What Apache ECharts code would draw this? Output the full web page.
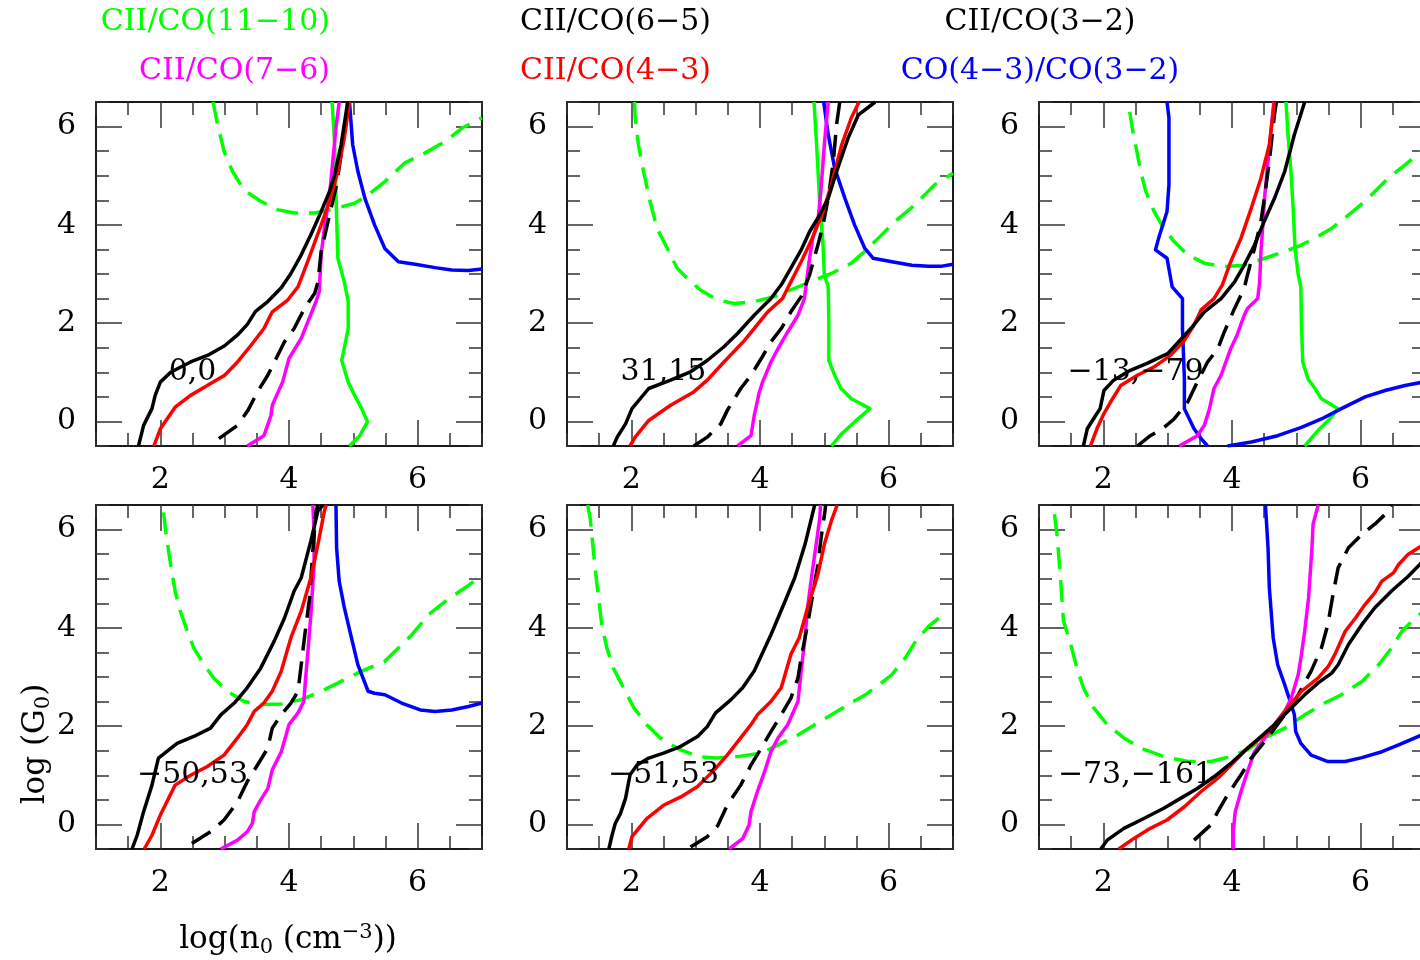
<!DOCTYPE html>
<html>
<head>
<meta charset="utf-8">
<script src="https://cdn.jsdelivr.net/npm/echarts@6/dist/echarts.min.js"></script>
<style>
  html, body { margin: 0; padding: 0; background: #ffffff; overflow: hidden; }
  #chart { width: 1420px; height: 960px; }
</style>
</head>
<body>
<div id="chart"></div>
<script>
// ---- tick labels and panel names ----
const xMajorTicks = [2, 4, 6];
const yMajorTicks = [0, 2, 4, 6];
const panelNames = ['0,0', '31,15', '\u221213,\u221279', '\u221250,53', '\u221251,53', '\u221273,\u2212161'];
const panelLabelAt = [2.5, 1.0];

// ---- panel 1 (0,0) ----
const p1BlackSolid = [[1.66,-0.5],[1.74,-0.08],[1.87,0.26],[1.92,0.53],[2.0,0.8],[2.16,1.0],[2.47,1.21],[2.76,1.36],[3.0,1.54],[3.2,1.76],[3.35,1.97],[3.48,2.24],[3.67,2.44],[3.88,2.72],[4.03,3.01],[4.19,3.39],[4.34,3.8],[4.5,4.27],[4.63,4.68],[4.71,5.02],[4.81,5.63],[4.89,6.31],[4.91,6.5]];
const p1Red = [[1.9,-0.5],[2.0,-0.15],[2.23,0.29],[2.47,0.53],[2.73,0.73],[3.0,0.94],[3.2,1.21],[3.41,1.55],[3.61,1.89],[3.74,2.23],[3.98,2.47],[4.14,2.74],[4.29,3.25],[4.5,4.0],[4.63,4.48],[4.76,5.09],[4.86,5.77],[4.94,6.5]];
const p1BlackDash = [[2.91,-0.35],[3.2,-0.08],[3.36,0.22],[3.51,0.6],[3.67,0.94],[3.8,1.28],[3.93,1.62],[4.08,1.89],[4.24,2.3],[4.4,2.61],[4.45,2.84],[4.5,3.46],[4.63,4.2],[4.74,4.82],[4.81,5.43],[4.89,6.11],[4.92,6.5]];
const p1Magenta = [[3.35,-0.5],[3.61,-0.29],[3.72,0.12],[3.74,0.33],[3.9,0.8],[4.0,1.28],[4.19,1.69],[4.42,2.44],[4.47,2.64],[4.5,3.39],[4.55,3.93],[4.63,4.61],[4.68,5.29],[4.73,5.97],[4.78,6.5]];
const p1GreenSolid = [[4.67,6.5],[4.71,5.63],[4.73,4.61],[4.76,3.32],[4.86,2.84],[4.92,2.44],[4.92,1.89],[4.82,1.24],[4.92,0.8],[5.02,0.53],[5.13,0.26],[5.22,-0.01],[5.1,-0.29],[4.94,-0.5]];
const p1Blue = [[4.94,6.5],[4.99,5.63],[5.07,5.09],[5.18,4.54],[5.33,4.0],[5.49,3.52],[5.7,3.25],[5.96,3.2],[6.27,3.13],[6.53,3.08],[6.79,3.07],[7.0,3.1]];
const p1GreenDash = [[2.82,6.5],[2.89,6.04],[2.99,5.5],[3.12,5.09],[3.3,4.71],[3.56,4.48],[3.82,4.31],[4.08,4.24],[4.4,4.24],[4.66,4.31],[5.02,4.44],[5.23,4.61],[5.49,4.88],[5.8,5.26],[6.11,5.46],[6.43,5.7],[6.69,5.97],[7.0,6.18]];

// ---- panel 2 (31,15) ----
const p2BlackSolid = [[1.72,-0.5],[1.78,-0.32],[1.91,-0.05],[2.01,0.26],[2.27,0.67],[2.61,0.84],[2.92,1.01],[3.18,1.24],[3.44,1.52],[3.65,1.79],[3.91,2.16],[4.17,2.5],[4.33,2.78],[4.48,3.12],[4.64,3.49],[4.77,3.86],[4.9,4.14],[5.06,4.54],[5.21,5.16],[5.37,5.77],[5.53,6.24],[5.79,6.5]];
const p2Red = [[1.98,-0.5],[2.06,-0.32],[2.27,0.02],[2.61,0.33],[2.97,0.6],[3.18,0.84],[3.44,1.21],[3.76,1.65],[4.12,2.23],[4.35,2.5],[4.48,2.84],[4.64,3.25],[4.8,3.69],[4.98,4.27],[5.11,4.82],[5.27,5.63],[5.42,6.18],[5.54,6.5]];
const p2BlackDash = [[2.97,-0.5],[3.18,-0.32],[3.39,-0.05],[3.49,0.22],[3.7,0.67],[3.86,0.94],[4.02,1.28],[4.17,1.62],[4.33,1.89],[4.48,2.23],[4.64,2.54],[4.77,2.98],[4.9,3.59],[4.98,4.0],[5.06,4.54],[5.14,5.29],[5.19,6.04],[5.24,6.5]];
const p2Magenta = [[3.65,-0.5],[3.86,-0.29],[3.91,0.12],[3.99,0.6],[4.04,0.8],[4.17,1.21],[4.28,1.48],[4.43,1.82],[4.59,2.16],[4.69,2.5],[4.73,2.91],[4.77,3.32],[4.82,3.73],[4.9,4.07],[4.95,4.75],[5.0,5.63],[5.06,6.5]];
const p2GreenSolid = [[4.84,6.5],[4.88,5.63],[4.93,4.41],[4.98,3.59],[5.0,2.98],[5.06,2.74],[5.07,2.03],[5.07,1.24],[5.16,0.94],[5.26,0.67],[5.42,0.46],[5.71,0.26],[5.47,-0.01],[5.27,-0.25],[5.11,-0.5]];
const p2Blue = [[4.99,6.5],[5.06,5.84],[5.16,5.16],[5.32,4.54],[5.47,4.0],[5.63,3.52],[5.76,3.32],[6.05,3.25],[6.36,3.18],[6.62,3.16],[6.83,3.16],[7.0,3.2]];
const p2GreenDash = [[2.05,6.5],[2.06,6.18],[2.11,5.63],[2.19,5.09],[2.29,4.48],[2.4,3.93],[2.56,3.52],[2.71,3.12],[2.87,2.91],[3.08,2.67],[3.34,2.47],[3.6,2.4],[3.91,2.44],[4.22,2.54],[4.54,2.71],[4.85,2.88],[5.11,3.01],[5.42,3.22],[5.63,3.46],[5.84,3.73],[6.1,4.07],[6.41,4.41],[6.72,4.82],[7.0,5.05]];

// ---- panel 3 (-13,-79) ----
const p3BlackSolid = [[1.69,-0.5],[1.75,-0.15],[1.88,0.12],[1.95,0.26],[2.01,0.63],[2.16,0.84],[2.42,1.04],[2.68,1.18],[3.0,1.38],[3.15,1.59],[3.36,1.89],[3.57,2.23],[3.83,2.5],[4.04,2.84],[4.19,3.18],[4.35,3.59],[4.5,4.07],[4.66,4.54],[4.82,5.09],[4.97,5.84],[5.13,6.5]];
const p3Red = [[1.8,-0.5],[1.9,-0.15],[2.01,0.16],[2.11,0.39],[2.27,0.73],[2.53,0.94],[2.79,1.11],[3.05,1.35],[3.26,1.65],[3.41,1.96],[3.52,2.27],[3.72,2.5],[3.85,2.78],[3.98,3.25],[4.14,3.73],[4.3,4.34],[4.45,4.95],[4.58,5.63],[4.66,6.5]];
const p3BlackDash = [[2.53,-0.5],[2.73,-0.29],[2.92,-0.15],[3.1,0.05],[3.31,0.39],[3.46,0.8],[3.62,1.21],[3.78,1.48],[3.88,1.82],[4.04,2.3],[4.19,2.71],[4.24,2.98],[4.35,3.52],[4.45,4.07],[4.51,4.61],[4.58,5.29],[4.66,6.24],[4.69,6.5]];
const p3Magenta = [[3.18,-0.5],[3.46,-0.29],[3.57,-0.08],[3.65,0.26],[3.72,0.67],[3.83,0.94],[3.98,1.48],[4.08,1.76],[4.19,2.16],[4.24,2.3],[4.4,2.5],[4.43,2.84],[4.45,3.46],[4.48,4.0],[4.51,4.61],[4.56,5.29],[4.61,5.97],[4.65,6.5]];
const p3GreenSolid = [[4.84,6.5],[4.87,5.84],[4.92,5.02],[4.95,4.34],[4.98,3.52],[5.03,2.98],[5.07,2.74],[5.08,1.96],[5.1,1.21],[5.18,0.87],[5.29,0.67],[5.39,0.46],[5.65,0.26],[5.52,0.05],[5.34,-0.18],[5.13,-0.5]];
const p3BlueA = [[2.99,6.5],[3.02,6.18],[3.02,4.82],[2.99,4.27],[2.86,3.73],[2.81,3.49],[2.99,3.32],[3.07,2.74],[3.23,2.5],[3.23,1.89],[3.26,0.87],[3.26,0.26],[3.41,-0.15],[3.52,-0.35],[3.62,-0.5]];
const p3BlueB = [[3.93,-0.5],[4.3,-0.42],[4.71,-0.29],[5.08,-0.12],[5.39,0.05],[5.7,0.26],[6.07,0.5],[6.38,0.63],[6.69,0.73],[7.0,0.81]];
const p3GreenDash = [[2.41,6.3],[2.45,5.97],[2.52,5.5],[2.58,5.09],[2.66,4.68],[2.79,4.27],[2.94,3.93],[3.1,3.66],[3.31,3.39],[3.57,3.22],[3.88,3.15],[4.19,3.18],[4.51,3.32],[4.82,3.46],[5.03,3.56],[5.29,3.73],[5.55,3.93],[5.81,4.2],[6.07,4.48],[6.43,4.95],[6.69,5.22],[6.95,5.5],[7.0,5.55]];

// ---- panel 4 (-50,53) ----
const p4BlackSolid = [[1.56,-0.5],[1.64,-0.22],[1.74,0.26],[1.87,0.8],[1.97,1.35],[2.26,1.65],[2.52,1.79],[2.78,1.96],[2.94,2.23],[3.15,2.47],[3.35,2.78],[3.56,3.18],[3.77,3.73],[3.93,4.2],[4.08,4.75],[4.19,5.02],[4.34,5.77],[4.45,6.38],[4.53,6.5]];
const p4Red = [[1.75,-0.5],[1.87,-0.22],[2.0,0.19],[2.23,0.8],[2.47,1.0],[2.73,1.18],[2.99,1.41],[3.2,1.76],[3.35,2.03],[3.46,2.3],[3.61,2.47],[3.74,2.71],[3.88,3.12],[4.03,3.8],[4.19,4.34],[4.34,5.02],[4.45,5.7],[4.55,6.38],[4.58,6.5]];
const p4BlackDash = [[2.49,-0.39],[2.78,-0.15],[2.99,0.09],[3.2,0.46],[3.35,0.87],[3.51,1.21],[3.67,1.55],[3.74,1.96],[3.88,2.23],[4.03,2.47],[4.14,2.71],[4.19,3.25],[4.24,3.8],[4.32,4.61],[4.37,5.56],[4.42,6.38],[4.45,6.5]];
const p4Magenta = [[2.94,-0.5],[3.2,-0.32],[3.35,-0.15],[3.43,0.02],[3.46,0.26],[3.56,0.5],[3.67,0.73],[3.74,1.11],[3.88,1.48],[4.0,2.03],[4.14,2.27],[4.23,2.5],[4.25,2.84],[4.29,3.46],[4.34,4.27],[4.39,5.29],[4.39,5.97],[4.37,6.5]];
const p4Blue = [[4.73,6.5],[4.74,5.63],[4.78,4.95],[4.86,4.41],[4.97,3.8],[5.07,3.25],[5.23,2.71],[5.33,2.67],[5.49,2.64],[5.75,2.47],[6.04,2.33],[6.27,2.3],[6.53,2.33],[6.79,2.4],[7.0,2.47]];
const p4GreenDash = [[2.05,6.35],[2.09,5.9],[2.16,5.29],[2.23,4.75],[2.31,4.34],[2.42,3.93],[2.52,3.59],[2.68,3.25],[2.83,2.98],[3.04,2.71],[3.3,2.5],[3.56,2.44],[3.88,2.45],[4.19,2.54],[4.5,2.71],[4.81,2.91],[5.13,3.12],[5.49,3.32],[5.7,3.59],[5.91,3.86],[6.17,4.27],[6.43,4.54],[6.74,4.82],[6.95,5.02]];

// ---- panel 5 (-51,53) ----
const p5BlackSolid = [[1.65,-0.5],[1.7,-0.22],[1.75,0.02],[1.83,0.22],[1.91,0.53],[1.98,1.01],[2.09,1.21],[2.27,1.35],[2.5,1.45],[2.77,1.59],[3.03,1.79],[3.18,1.99],[3.31,2.27],[3.55,2.54],[3.73,2.78],[3.91,3.12],[4.17,3.86],[4.37,4.48],[4.54,5.02],[4.7,5.7],[4.85,6.5]];
const p5Red = [[1.96,-0.5],[2.01,-0.25],[2.24,0.12],[2.5,0.39],[2.77,0.56],[3.03,0.77],[3.29,1.11],[3.49,1.41],[3.7,1.76],[3.86,2.03],[3.96,2.23],[4.17,2.5],[4.33,2.78],[4.48,3.46],[4.61,3.8],[4.74,4.41],[4.9,5.09],[5.0,5.7],[5.11,6.18],[5.2,6.5]];
const p5BlackDash = [[2.92,-0.46],[3.18,-0.25],[3.34,-0.03],[3.49,0.39],[3.7,0.8],[3.86,1.21],[4.02,1.55],[4.17,1.89],[4.33,2.23],[4.48,2.57],[4.59,2.98],[4.64,3.39],[4.74,4.07],[4.82,4.68],[4.9,5.29],[4.95,5.84],[5.01,6.38],[5.02,6.5]];
const p5Magenta = [[3.52,-0.5],[3.73,-0.29],[3.83,-0.01],[3.86,0.26],[3.96,0.67],[4.07,1.07],[4.17,1.48],[4.28,1.76],[4.43,2.03],[4.59,2.5],[4.64,3.12],[4.7,3.8],[4.74,4.41],[4.8,5.02],[4.88,5.77],[4.93,6.24],[4.94,6.5]];
const p5GreenDash = [[1.32,6.5],[1.36,6.24],[1.41,5.56],[1.46,4.95],[1.54,4.07],[1.62,3.59],[1.72,3.18],[1.88,2.78],[2.04,2.37],[2.24,2.03],[2.45,1.76],[2.71,1.55],[3.03,1.38],[3.34,1.35],[3.65,1.38],[4.02,1.45],[4.28,1.62],[4.59,1.82],[4.85,2.03],[5.11,2.23],[5.37,2.44],[5.64,2.64],[5.89,2.88],[6.05,3.05],[6.26,3.39],[6.42,3.73],[6.62,4.03],[6.91,4.34]];

// ---- panel 6 (-73,-161) ----
const p6BlackSolid = [[1.96,-0.5],[2.06,-0.32],[2.32,-0.08],[2.63,0.12],[2.94,0.33],[3.2,0.53],[3.46,0.73],[3.72,0.97],[3.98,1.24],[4.24,1.55],[4.45,1.79],[4.66,2.03],[4.92,2.37],[5.13,2.64],[5.34,2.88],[5.55,3.08],[5.65,3.25],[5.81,3.66],[6.02,4.07],[6.22,4.41],[6.48,4.75],[6.74,5.05],[6.95,5.33],[7.0,5.38]];
const p6Red = [[2.24,-0.5],[2.47,-0.29],[2.73,-0.08],[2.99,0.09],[3.26,0.36],[3.52,0.67],[3.78,0.94],[4.04,1.28],[4.24,1.55],[4.45,1.76],[4.66,2.03],[4.82,2.3],[5.08,2.71],[5.34,2.98],[5.5,3.22],[5.6,3.46],[5.76,3.93],[5.92,4.2],[6.07,4.48],[6.22,4.71],[6.33,4.95],[6.51,5.12],[6.59,5.29],[6.74,5.5],[6.95,5.67],[7.0,5.7]];
const p6BlackDash = [[3.41,-0.32],[3.67,-0.01],[3.78,0.26],[3.93,0.6],[4.14,1.01],[4.3,1.35],[4.51,1.69],[4.82,2.23],[5.03,2.64],[5.23,3.12],[5.39,3.59],[5.49,4.07],[5.57,4.68],[5.65,5.22],[5.81,5.63],[6.02,5.9],[6.22,6.11],[6.38,6.31],[6.48,6.5]];
const p6Magenta = [[4.02,-0.5],[4.02,-0.15],[4.05,0.26],[4.14,0.67],[4.24,1.07],[4.35,1.48],[4.51,1.76],[4.66,2.03],[4.82,2.3],[4.92,2.57],[5.03,3.05],[5.08,3.46],[5.13,3.93],[5.19,4.61],[5.24,5.56],[5.26,6.11],[5.34,6.5]];
const p6Blue = [[4.52,6.5],[4.56,5.63],[4.58,4.82],[4.64,3.8],[4.71,3.25],[4.82,2.84],[4.92,2.44],[4.97,2.23],[4.99,1.89],[5.07,1.65],[5.23,1.41],[5.49,1.28],[5.76,1.28],[6.02,1.36],[6.33,1.48],[6.59,1.62],[6.95,1.82],[7.0,1.85]];
const p6GreenDash = [[1.24,6.31],[1.28,5.9],[1.33,5.09],[1.38,4.14],[1.48,3.73],[1.59,3.18],[1.69,2.78],[1.85,2.37],[2.06,2.03],[2.32,1.76],[2.58,1.55],[2.94,1.38],[3.31,1.28],[3.67,1.28],[3.98,1.38],[4.24,1.52],[4.51,1.76],[4.82,1.96],[5.13,2.23],[5.44,2.47],[5.7,2.64],[6.02,2.91],[6.28,3.25],[6.48,3.59],[6.64,3.93],[6.85,4.2],[7.0,4.36]];

// ---- styling ----
const FONT = 'DejaVu Serif';
const FS = 30;
const C = { black: '#000000', red: '#ff0000', magenta: '#ff00ff', green: '#00ff00', blue: '#0000ff' };
const DASH = [22, 11];
const LW = 3.5;
const FRAME = { color: '#1a1a1a', width: 2 };
const TICK = { color: '#333333', width: 1.5 };

// curves of each panel: [data, colour, dashed]
const panels = [
  [[p1GreenDash, C.green, true], [p1GreenSolid, C.green, false], [p1Blue, C.blue, false], [p1Magenta, C.magenta, false], [p1BlackDash, C.black, true], [p1Red, C.red, false], [p1BlackSolid, C.black, false]],
  [[p2GreenDash, C.green, true], [p2GreenSolid, C.green, false], [p2Blue, C.blue, false], [p2Magenta, C.magenta, false], [p2BlackDash, C.black, true], [p2Red, C.red, false], [p2BlackSolid, C.black, false]],
  [[p3GreenDash, C.green, true], [p3GreenSolid, C.green, false], [p3BlueA, C.blue, false], [p3BlueB, C.blue, false], [p3Magenta, C.magenta, false], [p3BlackDash, C.black, true], [p3Red, C.red, false], [p3BlackSolid, C.black, false]],
  [[p4GreenDash, C.green, true], [p4Blue, C.blue, false], [p4Magenta, C.magenta, false], [p4BlackDash, C.black, true], [p4Red, C.red, false], [p4BlackSolid, C.black, false]],
  [[p5GreenDash, C.green, true], [p5Magenta, C.magenta, false], [p5BlackDash, C.black, true], [p5Red, C.red, false], [p5BlackSolid, C.black, false]],
  [[p6GreenDash, C.green, true], [p6Blue, C.blue, false], [p6Magenta, C.magenta, false], [p6BlackDash, C.black, true], [p6Red, C.red, false], [p6BlackSolid, C.black, false]]
];

const colLefts = [96, 567, 1039];
const rowTops = [102, 505];
const PW = 386, PH = 344;

const isMajor = (list) => (v) => list.indexOf(Math.round(v * 1000) / 1000) >= 0;
const labelStyle = { fontFamily: FONT, fontSize: FS, color: '#000' };

const grids = [], xAxes = [], yAxes = [], series = [];

panels.forEach((curves, g) => {
  const col = g % 3, row = Math.floor(g / 3);
  grids.push({ left: colLefts[col], top: rowTops[row], width: PW, height: PH,
               containLabel: false, outerBoundsMode: 'none' });

  const bx = { type: 'value', gridIndex: g, min: 1, max: 7, interval: 0.5, splitLine: { show: false } };
  const by = { type: 'value', gridIndex: g, min: -0.5, max: 6.5, interval: 0.5, splitLine: { show: false } };
  const xMaj = isMajor(xMajorTicks), yMaj = isMajor(yMajorTicks);

  // x: bottom minor (frame + labels), bottom major, top minor, top major
  ['bottom', 'top'].forEach((pos) => {
    xAxes.push(Object.assign({}, bx, {
      position: pos,
      axisLine: { show: true, onZero: false, lineStyle: FRAME },
      axisTick: { show: true, inside: true, length: 13, lineStyle: TICK },
      axisLabel: pos === 'bottom'
        ? Object.assign({ show: true, margin: 19, formatter: (v) => (xMaj(v) ? String(Math.round(v)) : '') }, labelStyle)
        : { show: false }
    }));
    xAxes.push(Object.assign({}, bx, {
      position: pos,
      axisLine: { show: false, onZero: false },
      axisTick: { show: true, inside: true, length: 26, customValues: xMajorTicks, lineStyle: TICK },
      axisLabel: { show: false }
    }));
  });

  // y: left minor (frame + labels), left major, right minor, right major
  ['left', 'right'].forEach((pos) => {
    yAxes.push(Object.assign({}, by, {
      position: pos,
      axisLine: { show: true, onZero: false, lineStyle: FRAME },
      axisTick: { show: true, inside: true, length: 13, lineStyle: TICK },
      axisLabel: pos === 'left'
        ? Object.assign({ show: true, margin: 20, formatter: (v) => (yMaj(v) ? String(Math.round(v)) : '') }, labelStyle)
        : { show: false }
    }));
    yAxes.push(Object.assign({}, by, {
      position: pos,
      axisLine: { show: false, onZero: false },
      axisTick: { show: true, inside: true, length: 26, customValues: yMajorTicks, lineStyle: TICK },
      axisLabel: { show: false }
    }));
  });

  curves.forEach(([data, color, dashed]) => {
    series.push({
      type: 'line', xAxisIndex: 4 * g, yAxisIndex: 4 * g,
      data: data, symbol: 'none', showSymbol: false, silent: true,
      lineStyle: { color: color, width: LW, type: dashed ? DASH : 'solid', cap: 'butt', join: 'round' },
      z: 2
    });
  });
});

const plainText = (text, x, y, color, align) => ({
  type: 'text', x: x, y: y, silent: true, z: 10,
  style: { text: text, font: FS + 'px "' + FONT + '"', fill: color,
           align: align, verticalAlign: 'middle', textAlign: align, textVerticalAlign: 'middle' }
});

const richBase = {
  m: { fontFamily: FONT, fontSize: 31, lineHeight: 36, fill: '#000' },
  s: { fontFamily: FONT, fontSize: 21, lineHeight: 12, verticalAlign: 'bottom', fill: '#000' },
  p: { fontFamily: FONT, fontSize: 21, lineHeight: 12, verticalAlign: 'top', fill: '#000' }
};

const graphics = [
  plainText('CII/CO(11\u221210)', 330, 22, C.green, 'right'),
  plainText('CII/CO(7\u22126)', 330, 71, C.magenta, 'right'),
  plainText('CII/CO(6\u22125)', 520, 22, C.black, 'left'),
  plainText('CII/CO(4\u22123)', 520, 71, C.red, 'left'),
  plainText('CII/CO(3\u22122)', 1040, 22, C.black, 'center'),
  plainText('CO(4\u22123)/CO(3\u22122)', 1040, 71, C.blue, 'center'),
  {
    type: 'text', x: 36, y: 744, rotation: Math.PI / 2, silent: true,
    style: { text: '{m|log (G}{s|0}{m|)}', rich: richBase,
             align: 'center', verticalAlign: 'middle', textAlign: 'center', textVerticalAlign: 'middle' }
  },
  {
    type: 'text', x: 288, y: 940, silent: true,
    style: { text: '{m|log(n}{s|0}{m| (cm}{p|\u22123}{m|))}', rich: richBase,
             align: 'center', verticalAlign: 'middle', textAlign: 'center', textVerticalAlign: 'middle' }
  }
];

const chart = echarts.init(document.getElementById('chart'), null, { renderer: 'canvas' });
chart.setOption({
  backgroundColor: '#ffffff',
  animation: false,
  grid: grids,
  xAxis: xAxes,
  yAxis: yAxes,
  series: series
});

// panel names sit at a fixed data position inside each panel
panelNames.forEach((name, g) => {
  const pt = chart.convertToPixel({ xAxisIndex: 4 * g, yAxisIndex: 4 * g }, panelLabelAt);
  graphics.push(plainText(name, pt[0], pt[1], C.black, 'center'));
});
chart.setOption({ graphic: graphics });
</script>
</body>
</html>
